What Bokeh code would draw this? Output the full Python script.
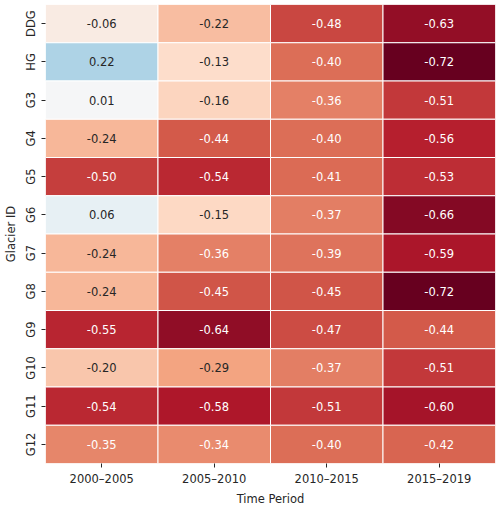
import numpy as np
from bokeh.plotting import figure
from bokeh.models import ColumnDataSource, FactorRange, LinearColorMapper
from bokeh.transform import transform
from bokeh.core.properties import value
from bokeh.embed import file_html
from bokeh.resources import INLINE

glaciers = ["DDG", "HG", "G3", "G4", "G5", "G6", "G7", "G8", "G9", "G10", "G11", "G12"]
periods = ["2000–2005", "2005–2010", "2010–2015", "2015–2019"]
p2000_2005 = [-0.06, 0.22, 0.01, -0.24, -0.50, 0.06, -0.24, -0.24, -0.55, -0.20, -0.54, -0.35]
p2005_2010 = [-0.22, -0.13, -0.16, -0.44, -0.54, -0.15, -0.36, -0.45, -0.64, -0.29, -0.58, -0.34]
p2010_2015 = [-0.48, -0.40, -0.36, -0.40, -0.41, -0.37, -0.39, -0.45, -0.47, -0.37, -0.51, -0.40]
p2015_2019 = [-0.63, -0.72, -0.51, -0.56, -0.53, -0.66, -0.59, -0.72, -0.44, -0.51, -0.60, -0.42]

columns = [p2000_2005, p2005_2010, p2010_2015, p2015_2019]

# matplotlib RdBu colormap stops (ColorBrewer 11)
stops = ["#67001f", "#b2182b", "#d6604d", "#f4a582", "#fddbc7", "#f7f7f7",
         "#d1e5f0", "#92c5de", "#4393c3", "#2166ac", "#053061"]
srgb = np.array([[int(s[i:i + 2], 16) / 255 for i in (1, 3, 5)] for s in stops])
pos = np.linspace(0, 1, len(stops))
N = 256
xs = np.linspace(0, 1, N)
pal_rgb = np.stack([np.interp(xs, pos, srgb[:, k]) for k in range(3)], axis=1)
palette = ["#%02x%02x%02x" % tuple(int(round(c * 255)) for c in row) for row in pal_rgb]

allv = np.array(columns).ravel()
vr = max(abs(allv.min()), abs(allv.max()))
mapper = LinearColorMapper(palette=palette, low=-vr, high=vr)


def lum(rgb):
    r = np.where(rgb <= 0.03928, rgb / 12.92, ((rgb + 0.055) / 1.055) ** 2.4)
    return 0.2126 * r[0] + 0.7152 * r[1] + 0.0722 * r[2]


xv, yv, vals, labels, tcolors = [], [], [], [], []
for per, col in zip(periods, columns):
    for g, v in zip(glaciers, col):
        xv.append(per)
        yv.append(g)
        vals.append(v)
        labels.append("%.2f" % v)
        idx = int(np.clip(np.floor((v + vr) / (2 * vr) * N), 0, N - 1))
        tcolors.append("#262626" if lum(pal_rgb[idx]) > 0.408 else "#ffffff")

src = ColumnDataSource(dict(x=xv, y=yv, v=vals, label=labels, tc=tcolors))

p = figure(width=500, height=508, output_backend="svg", toolbar_location=None,
           x_range=FactorRange(*periods, range_padding=0),
           y_range=FactorRange(*glaciers[::-1], range_padding=0),
           min_border_left=42, min_border_right=5, min_border_top=4, min_border_bottom=41)

p.rect(x="x", y="y", width=1, height=1, source=src,
       fill_color=transform("v", mapper), line_color="white", line_width=1)
p.text(x="x", y="y", text="label", source=src, text_color="tc",
       text_align="center", text_baseline="middle",
       text_font=value("DejaVu Sans"), text_font_size="11.5px")

p.outline_line_color = None
p.xgrid.grid_line_color = None
p.ygrid.grid_line_color = None
for ax in (p.xaxis[0], p.yaxis[0]):
    ax.axis_line_color = None
    ax.major_tick_out = 4
    ax.major_tick_in = 0
    ax.minor_tick_line_color = None
    ax.major_tick_line_color = "#262626"
    ax.major_label_text_font = "DejaVu Sans"
    ax.major_label_text_font_size = "11.5px"
    ax.major_label_text_color = "#262626"
    ax.axis_label_text_font = "DejaVu Sans"
    ax.axis_label_text_font_size = "11.5px"
    ax.axis_label_text_font_style = "normal"
    ax.axis_label_text_color = "#262626"
    ax.major_label_standoff = 4
    ax.axis_label_standoff = 3

p.xaxis.axis_label = "Time Period"
p.yaxis.axis_label = "Glacier ID"
p.yaxis.major_label_orientation = "vertical"

open("out.html", "w").write(file_html(p, INLINE))
